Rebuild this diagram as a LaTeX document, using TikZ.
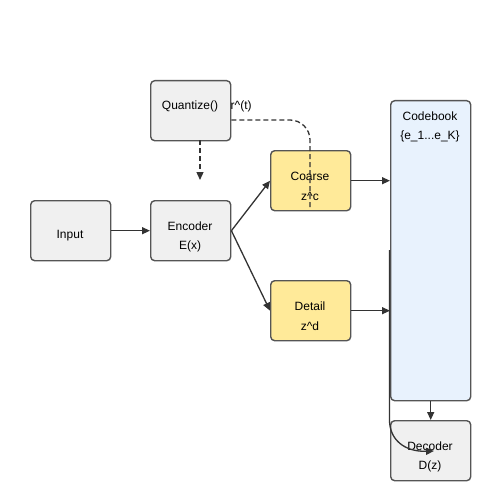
\documentclass[tikz,border=0pt]{standalone}
\usepackage{fontspec}
\setmainfont{Liberation Sans}
\usetikzlibrary{arrows.meta}
\definecolor{boxgray}{HTML}{F0F0F0}
\definecolor{boxline}{HTML}{555555}
\definecolor{boxyellow}{HTML}{FFEA99}
\definecolor{boxblue}{HTML}{E8F2FD}
\definecolor{linec}{HTML}{333333}
\begin{document}
\begin{tikzpicture}[x=1pt,y=-1pt,
  box/.style={draw=boxline,line width=1.4pt,rounded corners=4pt,inner sep=0pt,anchor=north west},
  gbox/.style={box,fill=boxgray,minimum width=80pt,minimum height=60pt},
  ybox/.style={box,fill=boxyellow,minimum width=80pt,minimum height=60pt},
  txt/.style={font=\fontsize{12}{14}\selectfont,inner sep=0pt,text=black},
  conn/.style={draw=linec,line width=1.3pt,-{Triangle[length=8pt,width=7pt]}},
  dconn/.style={draw=linec,line width=1.3pt,dash pattern=on 5pt off 3pt}
]
\useasboundingbox (0,0) rectangle (500,500);
\node[gbox] (input) at (30,200) {};
\node[gbox] (enc) at (150,200) {};
\node[gbox] (quant) at (150,80) {};
\node[ybox] (coarse) at (270,150) {};
\node[ybox] (detail) at (270,280) {};
\node[box,fill=boxblue,minimum width=80pt,minimum height=300pt] (code) at (390,100) {};
\node[gbox] (dec) at (390,420) {};

\node[txt] (tinput) at (70,236) {Input};
\node[txt] (tenc1) at (190,226) {Encoder};
\node[txt] (tenc2) at (190,246) {E(x)};
\node[txt] (tquant) at (190,106) {Quantize()};
\node[txt,anchor=west] (tr) at (230.5,106) {r\^{}(t)};
\node[txt] (tco1) at (310,176) {Coarse};
\node[txt] (tco2) at (310,196) {z\^{}c};
\node[txt] (tde1) at (310,306) {Detail};
\node[txt] (tde2) at (310,326) {z\^{}d};
\node[txt] (tcb1) at (430,116) {Codebook};
\node[txt] (tcb2) at (430,136) {\{e\_1...e\_K\}};
\node[txt] (tdec1) at (430,446) {Decoder};
\node[txt] (tdec2) at (430,466) {D(z)};

\coordinate (qstart) at (200,140);
\coordinate (qend) at (200,180);
\coordinate (cbot) at (310,210);
\coordinate (vstart) at (389.5,250);
\coordinate (vbend) at (389.5,420);
\coordinate (vend) at (434,451);

\draw[conn] (input.east) -- (enc.west);
\draw[conn] (enc.east) -- (coarse.west);
\draw[conn] (enc.east) -- (detail.west);
\draw[conn] (coarse.east) -- (coarse.east -| code.west);
\draw[conn] (detail.east) -- (detail.east -| code.west);
\draw[conn] (code.south) -- (dec.north);
\draw[dconn,-{Triangle[length=8pt,width=7pt]}] (qstart) -- (qend);
\draw[dconn] (quant.east |- 0,120) -- (290,120) .. controls (301,120) and (310,129) .. (310,140) -- (cbot);
\draw[conn] (vstart) -- (vbend) .. controls (389.5,440) and (405,452) .. (vend);
\end{tikzpicture}
\end{document}
